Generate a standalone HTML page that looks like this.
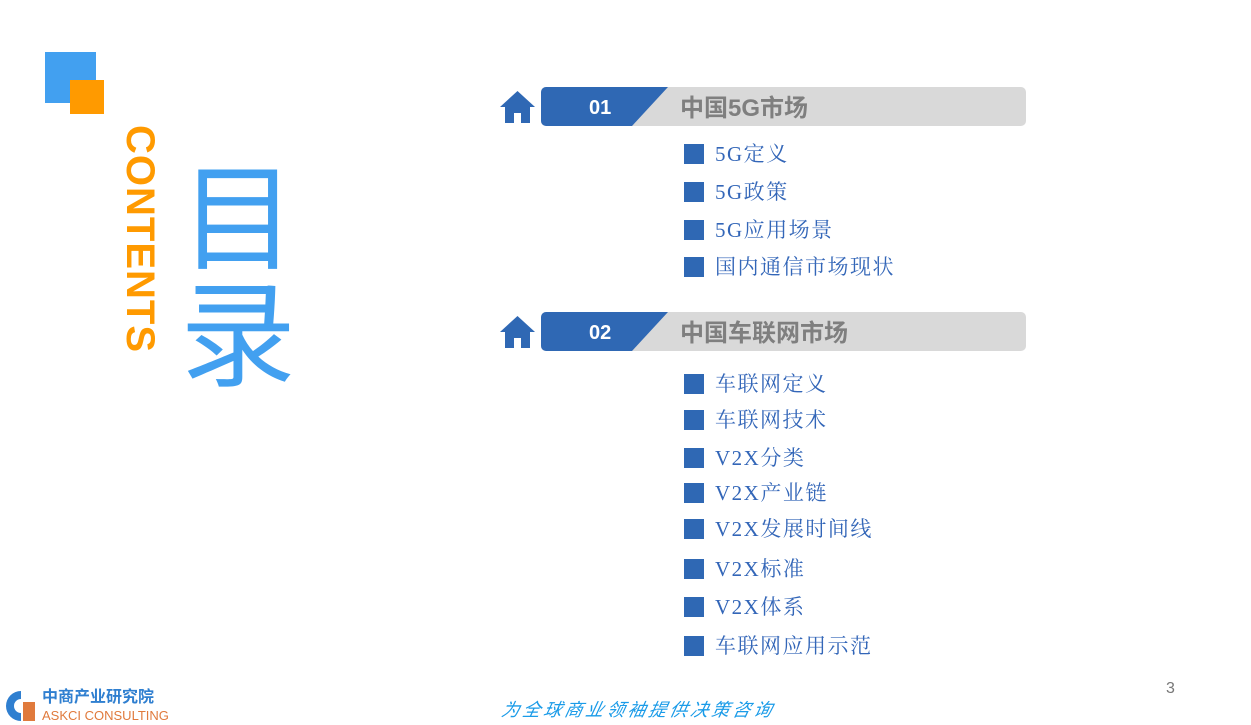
<!DOCTYPE html>
<html><head><meta charset="utf-8"><style>
body{margin:0;width:1251px;height:725px;background:#fff;position:relative;overflow:hidden;font-family:"Liberation Sans","Noto Sans CJK SC",sans-serif}
.a{position:absolute}
.it{position:absolute;left:684px;height:24px;font-family:"Liberation Serif","Noto Serif CJK SC",serif;font-size:21px;color:#3366b8;line-height:24px;white-space:nowrap;letter-spacing:1.5px}
.it:before{content:"";position:absolute;left:0;top:2px;width:20px;height:20px;background:#2f68b4}
.it span{position:absolute;left:31px;top:0}
.bar{position:absolute;left:541px;width:485px;height:39px;background:#d9d9d9;border-radius:5px;overflow:hidden}
.bar svg{position:absolute;left:0;top:0}
.num{position:absolute;left:48px;top:2px;line-height:39px;color:#fff;font-weight:bold;font-size:20px}
.ttl{position:absolute;left:139px;top:2px;line-height:39px;color:#7f7f7f;font-weight:bold;font-size:24px}
</style></head><body>
<div class="a" style="left:45px;top:52px;width:51px;height:51px;background:#42a0f0"></div>
<div class="a" style="left:70px;top:80px;width:34px;height:34px;background:#ff9a00"></div>
<div class="a" style="left:140px;top:239px;width:0;height:0"><div style="position:absolute;transform:translate(-50%,-50%) rotate(90deg);color:#ff9a00;font-size:40px;font-weight:bold;letter-spacing:1px;white-space:nowrap;line-height:40px">CONTENTS</div></div>
<div class="a" style="left:180px;top:152px;color:#42a0f0;font-size:116px;line-height:117px;font-family:'Noto Sans CJK SC',sans-serif">目<br>录</div>

<svg class="a" style="left:499px;top:90px" width="37" height="34" viewBox="0 0 37 34"><path d="M18.5 1 L36 17 L31 17 L31 33 L22 33 L22 23 L15 23 L15 33 L6 33 L6 17 L1 17 Z" fill="#2f68b4"/></svg>
<div class="bar" style="top:87px"><svg width="130" height="39"><path d="M0 0H127L91 39H0Z" fill="#2f68b4"/></svg><div class="num">01</div><div class="ttl">中国5G市场</div></div>
<svg class="a" style="left:499px;top:315px" width="37" height="34" viewBox="0 0 37 34"><path d="M18.5 1 L36 17 L31 17 L31 33 L22 33 L22 23 L15 23 L15 33 L6 33 L6 17 L1 17 Z" fill="#2f68b4"/></svg>
<div class="bar" style="top:312px"><svg width="130" height="39"><path d="M0 0H127L91 39H0Z" fill="#2f68b4"/></svg><div class="num">02</div><div class="ttl">中国车联网市场</div></div>

<div class="it" style="top:142px"><span>5G定义</span></div>
<div class="it" style="top:180px"><span>5G政策</span></div>
<div class="it" style="top:218px"><span>5G应用场景</span></div>
<div class="it" style="top:255px"><span>国内通信市场现状</span></div>
<div class="it" style="top:372px"><span>车联网定义</span></div>
<div class="it" style="top:408px"><span>车联网技术</span></div>
<div class="it" style="top:446px"><span>V2X分类</span></div>
<div class="it" style="top:481px"><span>V2X产业链</span></div>
<div class="it" style="top:517px"><span>V2X发展时间线</span></div>
<div class="it" style="top:557px"><span>V2X标准</span></div>
<div class="it" style="top:595px"><span>V2X体系</span></div>
<div class="it" style="top:634px"><span>车联网应用示范</span></div>

<div class="a" style="left:1166px;top:680px;font-size:16px;color:#777">3</div>
<svg class="a" style="left:4px;top:689px" width="36" height="34"><path d="M17 2 A15 15 0 1 0 17 32 L17 24 A7 7 0 1 1 17 10 Z" fill="#2f7fd0"/><rect x="19" y="13" width="12" height="19" fill="#e07a3c"/></svg>
<div class="a" style="left:42px;top:689px;font-size:16px;font-weight:bold;color:#2f7fd0;line-height:18px">中商产业研究院</div>
<div class="a" style="left:42px;top:708px;font-size:13px;color:#e07a3c;line-height:15px">ASKCI CONSULTING</div>
<div class="a" style="left:502px;top:696px;font-size:18px;font-style:italic;color:#1a9be8;letter-spacing:3px;transform:skewX(-12deg)">为全球商业领袖提供决策咨询</div>
</body></html>
